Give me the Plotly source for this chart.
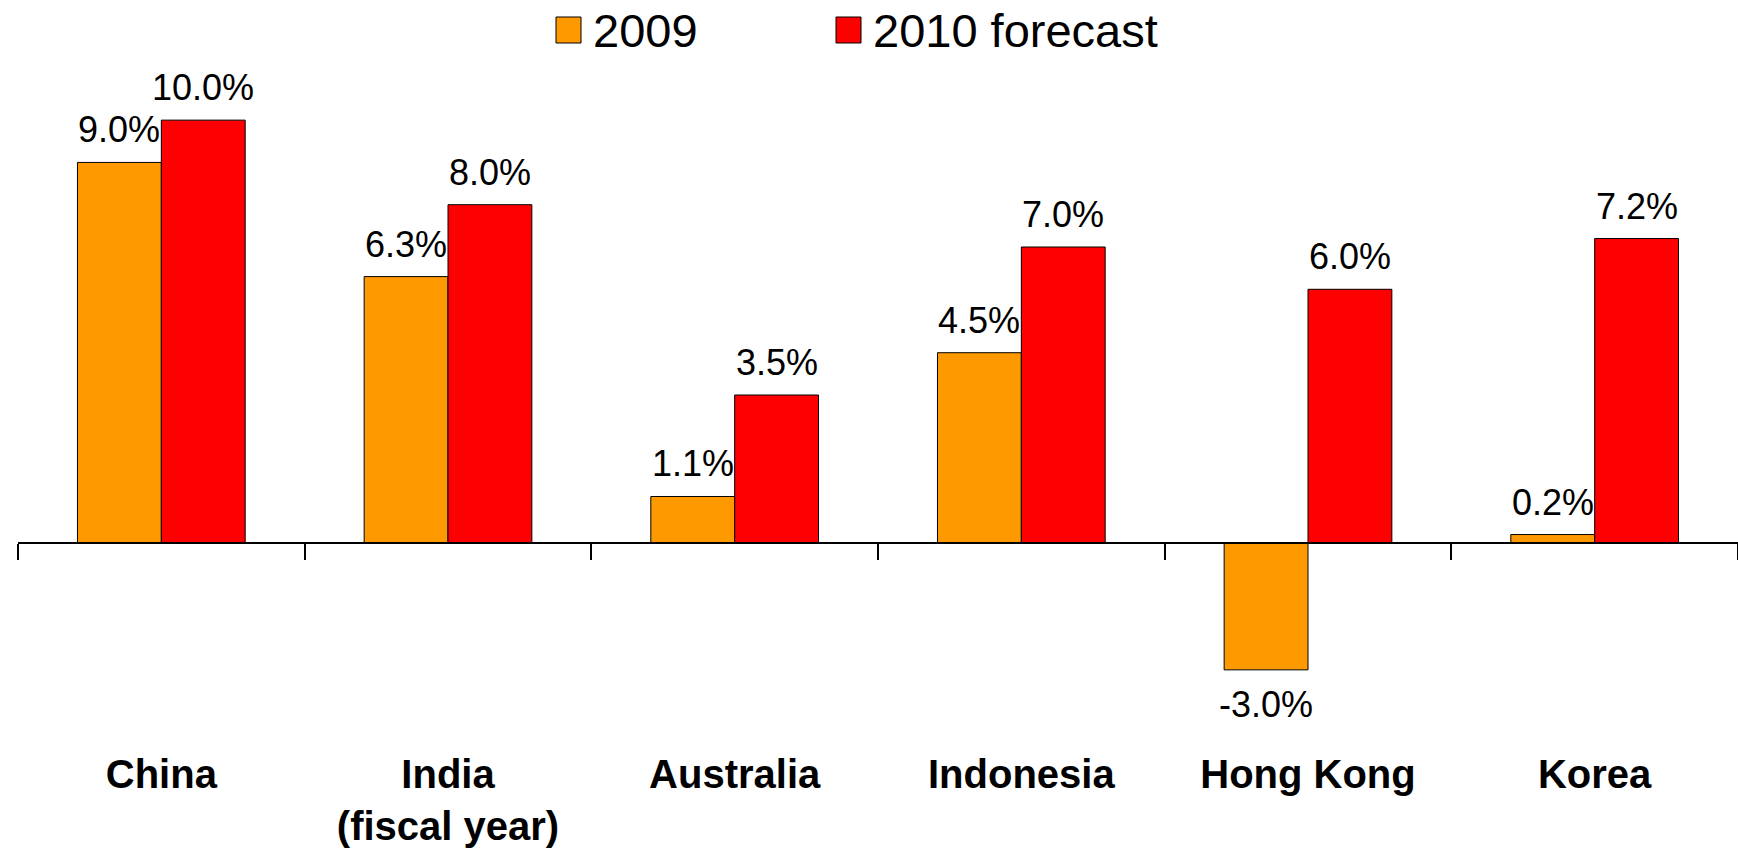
import plotly.graph_objects as go

# ---- data ----
categories = ["China", "India<br>(fiscal year)", "Australia", "Indonesia", "Hong Kong", "Korea"]
values_2009 = [9.0, 6.3, 1.1, 4.5, -3.0, 0.2]
values_2010 = [10.0, 8.0, 3.5, 7.0, 6.0, 7.2]
series_names = ["2009", "2010 forecast"]
series_colors = ["#FF9900", "#FF0000"]

# ---- layout constants ----
W, H = 1738, 848
ML, MR, MT, MB = 18, 0, 99, 157
Y_RANGE = [-3.5, 10.5]
BARGAP = 0.415
FONT = "Arial, 'Liberation Sans', Helvetica, sans-serif"

plot_w = W - ML - MR
plot_h = H - MT - MB


def paper_x(p):
    return (p - ML) / plot_w


def paper_y(p):
    return (H - MB - p) / plot_h


fig = go.Figure()
for name, vals, col in zip(series_names, [values_2009, values_2010], series_colors):
    fig.add_trace(go.Bar(
        x=categories, y=vals, name=name,
        marker=dict(color=col, line=dict(color="black", width=1)),
        showlegend=False,
    ))

# data labels (offset to each bar of the group)
bar_px = plot_w / len(categories) * (1 - BARGAP) / 2
annotations = []
for i, vals in enumerate([values_2009, values_2010]):
    shift = (i - 0.5) * bar_px
    for c, v in zip(categories, vals):
        annotations.append(dict(
            x=c, y=v, xref="x", yref="y", xshift=shift,
            yshift=10 if v >= 0 else -12,
            yanchor="bottom" if v >= 0 else "top",
            xanchor="center", showarrow=False,
            text=f"{v:.1f}%",
            font=dict(family=FONT, size=36, color="black"),
        ))

# legend (manual, larger swatches)
shapes = []
legend_swatch_x = [556, 836]
for name, col, sx in zip(series_names, series_colors, legend_swatch_x):
    shapes.append(dict(
        type="rect", xref="paper", yref="paper",
        x0=paper_x(sx), x1=paper_x(sx + 25), y0=paper_y(43), y1=paper_y(17),
        fillcolor=col, line=dict(color="black", width=1),
    ))
    annotations.append(dict(
        x=paper_x(sx + 35), y=paper_y(31), xref="paper", yref="paper",
        xanchor="left", yanchor="middle", showarrow=False, text=name,
        font=dict(family=FONT, size=47, color="black"),
    ))

zero_pos = (0 - Y_RANGE[0]) / (Y_RANGE[1] - Y_RANGE[0])

fig.update_layout(
    width=W, height=H,
    margin=dict(l=ML, r=MR, t=MT, b=MB, pad=0),
    paper_bgcolor="white", plot_bgcolor="white",
    barmode="group", bargap=BARGAP, bargroupgap=0,
    showlegend=False,
    annotations=annotations, shapes=shapes,
    font=dict(family=FONT, color="black"),
    xaxis=dict(
        type="category", anchor="free", position=zero_pos,
        tickson="boundaries", ticks="outside", ticklen=16, tickwidth=2, tickcolor="black",
        showline=True, linecolor="black", linewidth=2,
        showgrid=False, zeroline=False,
        ticklabelstandoff=196, automargin=False,
        tickfont=dict(family=FONT, size=40, color="black", weight="bold"),
    ),
    yaxis=dict(
        range=Y_RANGE, showticklabels=False, showgrid=False, zeroline=False,
        showline=False, ticks="", automargin=False,
    ),
)

fig.write_html("out.html")
